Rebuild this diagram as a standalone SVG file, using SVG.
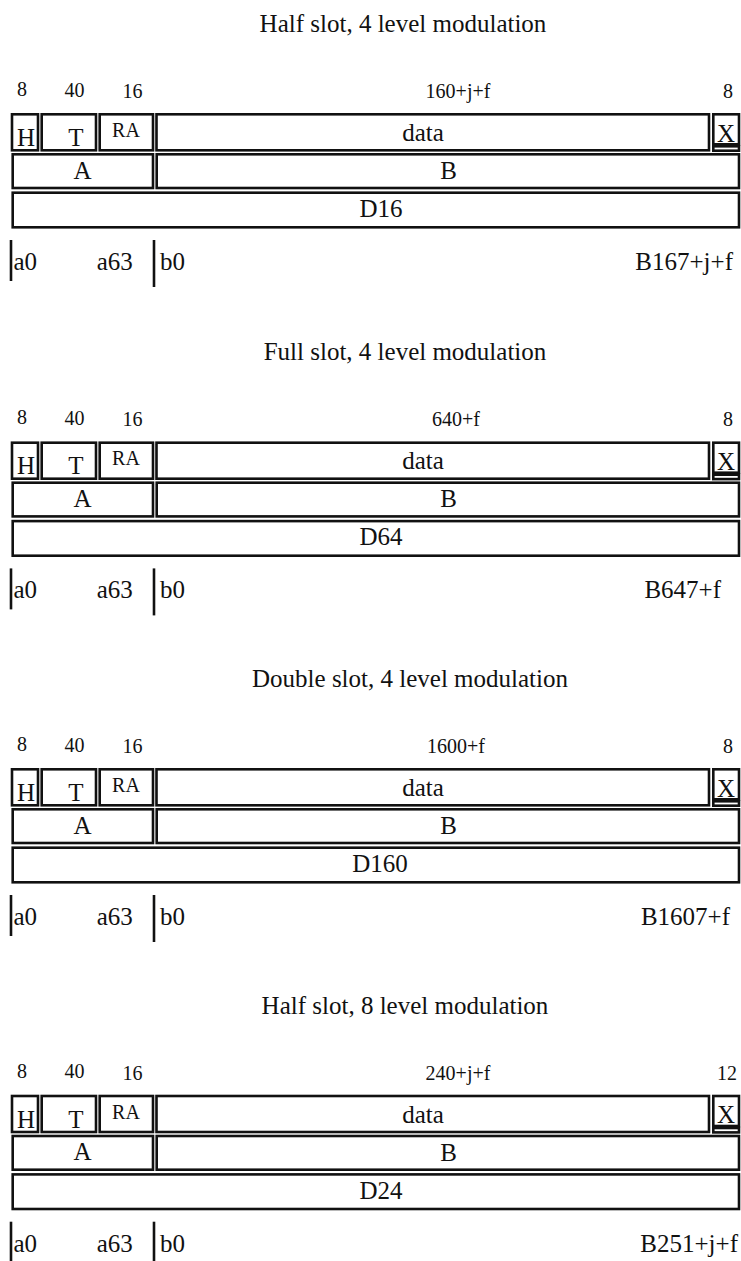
<svg xmlns="http://www.w3.org/2000/svg" width="741" height="1261" viewBox="0 0 741 1261">
<style>
text{font-family:"Liberation Serif","Times New Roman",serif;fill:#111}
.t{font-size:25px;text-anchor:middle}
.n{font-size:20px;text-anchor:middle}
.m{font-size:25px;text-anchor:middle}
.ra{font-size:20px;text-anchor:middle}
.s{font-size:25px}
.e{font-size:25px;text-anchor:end}
rect{fill:#fff;stroke:#111;stroke-width:2.6}
line{stroke:#111;stroke-width:2.6}
</style>
<defs>
<g id="frame">
<g id="boxH"><rect x="12" y="114.3" width="26" height="36"/></g>
<g id="boxT"><rect x="41.7" y="114.3" width="54.3" height="36"/></g>
<g id="boxRA"><rect x="99.7" y="114.3" width="53.3" height="36"/></g>
<g id="boxData"><rect x="156.5" y="114.3" width="552.5" height="36"/></g>
<g id="boxX"><rect x="713.3" y="114.3" width="25.7" height="30"/><rect x="713.3" y="146.3" width="25.7" height="4.4"/></g>
<g id="boxA"><rect x="12.7" y="154.3" width="140.3" height="33.7"/></g>
<g id="boxB"><rect x="156.7" y="154.3" width="582.3" height="33.7"/></g>
<g id="boxD"><rect x="12.7" y="192.7" width="726.3" height="34.6"/></g>
<g id="bars"><line x1="11" y1="240" x2="11" y2="281"/><line x1="154" y1="240" x2="154" y2="287"/></g>
<g id="fixedText">
<text class="n" x="22" y="96">8</text>
<text class="n" x="74.5" y="96.5">40</text>
<text class="n" x="132.5" y="98">16</text>
<text class="m" x="26" y="146">H</text>
<text class="m" x="76" y="146">T</text>
<text class="ra" x="126" y="137">RA</text>
<text class="m" x="423" y="141">data</text>
<text class="m" x="726" y="141.5">X</text>
<text class="m" x="82.5" y="178.5">A</text>
<text class="m" x="448.5" y="179">B</text>
<text class="s" x="13.5" y="270">a0</text>
<text class="s" x="96.7" y="270">a63</text>
<text class="s" x="160" y="270">b0</text>
</g>
</g>
</defs>

<g id="block1">
<text class="t" x="403" y="32">Half slot, 4 level modulation</text>
<use href="#frame"/>
<text class="n" x="458" y="98">160+j+f</text>
<text class="n" x="728" y="98">8</text>
<text class="m" x="381" y="217">D16</text>
<text class="e" x="733" y="270">B167+j+f</text>
</g>

<g id="block2" transform="translate(0,328.4)">
<text class="t" x="405" y="32">Full slot, 4 level modulation</text>
<use href="#frame"/>
<text class="n" x="456" y="98">640+f</text>
<text class="n" x="728" y="98">8</text>
<text class="m" x="381" y="217">D64</text>
<text class="e" x="721" y="270">B647+f</text>
</g>

<g id="block3" transform="translate(0,655)">
<text class="t" x="410" y="32">Double slot, 4 level modulation</text>
<use href="#frame"/>
<text class="n" x="456" y="98">1600+f</text>
<text class="n" x="728" y="98">8</text>
<text class="m" x="380" y="217">D160</text>
<text class="e" x="730" y="270">B1607+f</text>
</g>

<g id="block4" transform="translate(0,981.7)">
<text class="t" x="405" y="32">Half slot, 8 level modulation</text>
<use href="#frame"/>
<text class="n" x="458" y="98">240+j+f</text>
<text class="n" x="727" y="98">12</text>
<text class="m" x="381" y="217">D24</text>
<text class="e" x="738" y="270">B251+j+f</text>
</g>
</svg>
